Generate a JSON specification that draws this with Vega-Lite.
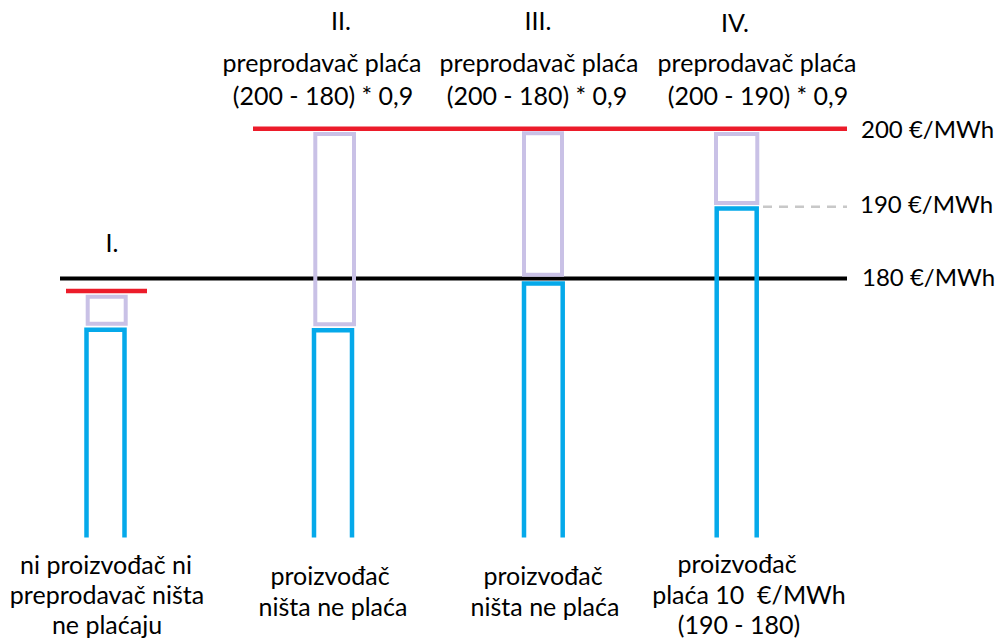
{
  "$schema": "https://vega.github.io/schema/vega-lite/v6.json",
  "width": 996,
  "height": 640,
  "autosize": {"type": "fit", "contains": "padding"},
  "padding": 0,
  "background": "white",
  "config": {"view": {"stroke": null}, "axis": {"disable": true}},
  "datasets": {
    "lines": [
      {"kind": "black", "x": 60, "x2": 847, "y": 180},
      {"kind": "red", "x": 253, "x2": 847, "y": 200},
      {"kind": "red", "x": 66, "x2": 147, "y": 178.33},
      {"kind": "grey", "x": 763, "x2": 847, "y": 189.6}
    ],
    "boxes": [
      {"col": "I", "x": 87.7, "x2": 125.7, "y": 177.57, "y2": 173.98},
      {"col": "II", "x": 315.3, "x2": 354, "y": 199.32, "y2": 173.89},
      {"col": "III", "x": 524, "x2": 562, "y": 199.4, "y2": 180.52},
      {"col": "IV", "x": 716, "x2": 757.3, "y": 199.32, "y2": 190.08}
    ],
    "bars": [
      {"col": "I", "o": 1, "x": 86.5, "y": 145.41},
      {"col": "I", "o": 2, "x": 86.5, "y": 173.18},
      {"col": "I", "o": 3, "x": 124.5, "y": 173.18},
      {"col": "I", "o": 4, "x": 124.5, "y": 145.41},
      {"col": "II", "o": 1, "x": 314, "y": 145.41},
      {"col": "II", "o": 2, "x": 314, "y": 173.1},
      {"col": "II", "o": 3, "x": 352, "y": 173.1},
      {"col": "II", "o": 4, "x": 352, "y": 145.41},
      {"col": "III", "o": 1, "x": 524, "y": 145.41},
      {"col": "III", "o": 2, "x": 524, "y": 179.33},
      {"col": "III", "o": 3, "x": 562.7, "y": 179.33},
      {"col": "III", "o": 4, "x": 562.7, "y": 145.41},
      {"col": "IV", "o": 1, "x": 716.7, "y": 145.41},
      {"col": "IV", "o": 2, "x": 716.7, "y": 189.34},
      {"col": "IV", "o": 3, "x": 756.7, "y": 189.34},
      {"col": "IV", "o": 4, "x": 756.7, "y": 145.41}
    ],
    "texts": [
      {"g": "c", "t": "I.", "x": 112, "y": 184.6},
      {"g": "c", "t": "II.", "x": 341, "y": 214.3},
      {"g": "c", "t": "III.", "x": 538, "y": 214.3},
      {"g": "c", "t": "IV.", "x": 735, "y": 214.05},
      {"g": "c", "t": "preprodavač plaća", "x": 322, "y": 208.6},
      {"g": "c", "t": "preprodavač plaća", "x": 539, "y": 208.6},
      {"g": "c", "t": "preprodavač plaća", "x": 757, "y": 208.6},
      {"g": "c", "t": "(200 - 180) * 0,9", "x": 323, "y": 204.2},
      {"g": "c", "t": "(200 - 180) * 0,9", "x": 537, "y": 204.2},
      {"g": "c", "t": "(200 - 190) * 0,9", "x": 758, "y": 204.2},
      {"g": "c", "t": "ni proizvođač ni", "x": 106, "y": 141.6},
      {"g": "c", "t": "preprodavač ništa", "x": 107, "y": 137.6},
      {"g": "c", "t": "ne plaćaju", "x": 107, "y": 133.55},
      {"g": "c", "t": "proizvođač", "x": 330, "y": 140.1},
      {"g": "c", "t": "ništa ne plaća", "x": 333, "y": 136.0},
      {"g": "c", "t": "proizvođač", "x": 543, "y": 140.1},
      {"g": "c", "t": "ništa ne plaća", "x": 545, "y": 136.0},
      {"g": "c", "t": "proizvođač", "x": 737, "y": 141.8},
      {"g": "c", "t": "plaća 10\u00a0 €/MWh", "x": 749, "y": 137.6},
      {"g": "c", "t": "(190 - 180)", "x": 739, "y": 133.55},
      {"g": "l", "t": "200 €/MWh", "x": 861, "y": 199.67},
      {"g": "l", "t": "190 €/MWh", "x": 860, "y": 189.64},
      {"g": "l", "t": "180 €/MWh", "x": 862, "y": 179.92}
    ]
  },
  "layer": [
    {
      "data": {"name": "lines"},
      "transform": [{"filter": "datum.kind === 'black'"}],
      "mark": {"type": "rule", "color": "#000000", "strokeWidth": 4},
      "encoding": {
        "x": {"field": "x", "type": "quantitative", "scale": {"domain": [0, 996], "nice": false, "zero": false}},
        "x2": {"field": "x2"},
        "y": {"field": "y", "type": "quantitative", "scale": {"domain": [132, 217.2], "nice": false, "zero": false}}
      }
    },
    {
      "data": {"name": "lines"},
      "transform": [{"filter": "datum.kind === 'red'"}],
      "mark": {"type": "rule", "color": "#EC1C2A", "strokeWidth": 4.5},
      "encoding": {
        "x": {"field": "x", "type": "quantitative"},
        "x2": {"field": "x2"},
        "y": {"field": "y", "type": "quantitative"}
      }
    },
    {
      "data": {"name": "lines"},
      "transform": [{"filter": "datum.kind === 'grey'"}],
      "mark": {"type": "rule", "color": "#C8C8C8", "strokeWidth": 2.5, "strokeDash": [9, 7]},
      "encoding": {
        "x": {"field": "x", "type": "quantitative"},
        "x2": {"field": "x2"},
        "y": {"field": "y", "type": "quantitative"}
      }
    },
    {
      "data": {"name": "boxes"},
      "mark": {"type": "rect", "fillOpacity": 0, "stroke": "#C9C1E6", "strokeWidth": 4},
      "encoding": {
        "x": {"field": "x", "type": "quantitative"},
        "x2": {"field": "x2"},
        "y": {"field": "y", "type": "quantitative"},
        "y2": {"field": "y2"}
      }
    },
    {
      "data": {"name": "bars"},
      "mark": {"type": "line", "color": "#05A9EA", "strokeWidth": 4.5, "strokeJoin": "miter", "strokeCap": "butt"},
      "encoding": {
        "x": {"field": "x", "type": "quantitative"},
        "y": {"field": "y", "type": "quantitative"},
        "detail": {"field": "col"},
        "order": {"field": "o", "type": "quantitative"}
      }
    },
    {
      "data": {"name": "texts"},
      "transform": [{"filter": "datum.g === 'c'"}],
      "mark": {"type": "text", "font": "Lato", "fontSize": 25, "color": "#000000", "align": "center", "baseline": "middle"},
      "encoding": {
        "x": {"field": "x", "type": "quantitative"},
        "y": {"field": "y", "type": "quantitative"},
        "text": {"field": "t"}
      }
    },
    {
      "data": {"name": "texts"},
      "transform": [{"filter": "datum.g === 'l'"}],
      "mark": {"type": "text", "font": "Lato", "fontSize": 24, "color": "#000000", "align": "left", "baseline": "middle"},
      "encoding": {
        "x": {"field": "x", "type": "quantitative"},
        "y": {"field": "y", "type": "quantitative"},
        "text": {"field": "t"}
      }
    }
  ]
}
